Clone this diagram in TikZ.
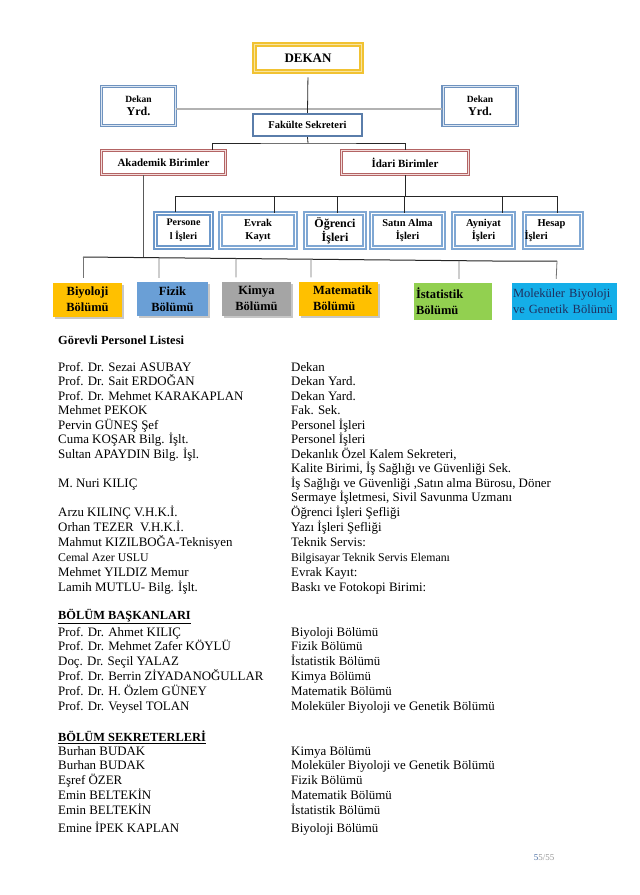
\documentclass[tikz,border=0pt]{standalone}
\usepackage{fontspec}
\setmainfont{Liberation Serif}
\usetikzlibrary{shadows,calc}
\definecolor{cYel}{HTML}{F1C232}
\definecolor{cYelIn}{HTML}{F8E4A0}
\definecolor{cYrd}{HTML}{6F93BF}
\definecolor{cYrdIn}{HTML}{DCE6F2}
\definecolor{cFak}{HTML}{5A7DAA}
\definecolor{cRed}{HTML}{B36464}
\definecolor{cRedIn}{HTML}{F2DCDB}
\definecolor{cIb}{HTML}{7FA7D3}
\definecolor{cIbD}{HTML}{6C98CA}
\definecolor{cBio}{HTML}{FFC000}
\definecolor{cFiz}{HTML}{6A9FD6}
\definecolor{cKim}{HTML}{A5A5A5}
\definecolor{cIst}{HTML}{92D050}
\definecolor{cMol}{HTML}{14AEE8}
\definecolor{cMolT}{HTML}{1F2F5F}
\definecolor{cPg}{HTML}{4A6FA5}
\begin{document}
\begin{tikzpicture}[x=1pt,y=-1pt,
  lst/.style={anchor=base west, inner sep=0pt, font=\fontsize{12.9}{14}\selectfont},
  lsts/.style={anchor=base west, inner sep=0pt, font=\fontsize{11.8}{14}\selectfont},
  hdr/.style={anchor=base west, inner sep=0pt, font=\fontsize{12.4}{14}\selectfont\bfseries},
  conn/.style={draw=black!85, line width=0.8pt},
  grayln/.style={draw=black!30, line width=1.6pt},
  dropln/.style={draw=black!55, line width=0.8pt, shorten >=4pt},
  dekbox/.style={draw=cYel, line width=1.6pt, double=cYelIn, double distance=1pt, fill=white,
    minimum width=107pt, minimum height=27pt, inner sep=0pt, font=\fontsize{13}{15}\selectfont\bfseries},
  yrdbox/.style={draw=cYrd, line width=1.3pt, double=cYrdIn, double distance=0.8pt, fill=white,
    minimum width=74pt, minimum height=39pt, inner sep=0pt, align=center},
  fakbox/.style={draw=cFak, line width=2.4pt, fill=white,
    minimum width=109pt, minimum height=22pt, inner sep=0pt, font=\fontsize{10.5}{12}\selectfont\bfseries},
  redbox/.style={draw=cRed, line width=1.3pt, double=cRedIn, double distance=0.8pt, fill=white,
    minimum width=124pt, minimum height=24pt, inner sep=0pt, font=\fontsize{11}{13}\selectfont\bfseries},
  ibox/.style={draw=cIb, line width=1.5pt, double=white, double distance=1.3pt, fill=white,
    minimum height=34pt, inner sep=0pt, align=center, font=\fontsize{10.5}{13.5}\selectfont\bfseries},
  dept/.style={minimum height=34pt, inner xsep=2pt, inner ysep=0pt, align=center,
    font=\fontsize{12.5}{16}\selectfont\bfseries},
  shad/.style={drop shadow={shadow xshift=2pt, shadow yshift=-2pt, fill=black!22, opacity=1}}
]
\useasboundingbox (0,0) rectangle (640,895);
\fill[white] (0,0) rectangle (640,895);

% ---------- chart nodes ----------
\node[dekbox] (dekan) at (308,58) {DEKAN};
\node[yrdbox] (yrdL) at (138.5,106) {{\fontsize{9.5}{11}\selectfont\bfseries Dekan}\\[1pt]{\fontsize{12}{13}\selectfont\bfseries Yrd.}};
\node[yrdbox] (yrdR) at (480,106) {{\fontsize{9.5}{11}\selectfont\bfseries Dekan}\\[1pt]{\fontsize{12}{13}\selectfont\bfseries Yrd.}};
\draw[grayln] ([yshift=-3pt]yrdL.east) -- ([yshift=-3pt]yrdR.west);
\node[fakbox] (fak) at (307.5,125) {Fakülte Sekreteri};
\node[redbox] (akad) at (163.5,162.5) {Akademik Birimler};
\node[redbox, minimum width=127pt] (idari) at (405,162.5) {İdari Birimler};

\node[ibox, draw=cIbD, line width=2.2pt, minimum width=56pt] (pers) at (183.5,230.5) {{\fontsize{10}{12}\selectfont Persone}\\{\fontsize{10}{12}\selectfont l İşleri}};
\node[ibox, minimum width=75pt] (evrak) at (258,230.5) {Evrak\\Kayıt};
\node[ibox, minimum width=59pt, font=\fontsize{12}{14}\selectfont\bfseries] (ogr) at (335,230.5) {Öğrenci\\İşleri};
\node[ibox, minimum width=72pt] (satin) at (407.5,230.5) {Satın Alma\\İşleri};
\node[ibox, minimum width=60pt] (ayn) at (483.5,230.5) {Ayniyat\\İşleri};
\node[ibox, minimum width=57pt, align=left, text width=55pt] (hesap) at (553,230.5) {\hspace*{12pt}Hesap\\[-1pt]\hspace*{-1pt}İşleri};

\node[dept, fill=cBio, text width=65pt, shad] (bio) at (87.5,299.5) {Biyoloji\\Bölümü};
\node[dept, fill=cFiz, text width=67pt, shad] (fiz) at (172.5,299) {Fizik\\Bölümü};
\node[dept, fill=cKim, text width=65pt, shad] (kim) at (256.5,298.5) {Kimya\\Bölümü};
\node[dept, fill=cBio, text width=75pt, align=left, shad] (mat) at (338.5,298.5) {\hspace*{12pt}Matematik\\\hspace*{12pt}Bölümü};
\node[dept, fill=cIst, text width=74pt, align=left, minimum height=37pt] (ist) at (453,301.5) {İstatistik\\Bölümü};
\node[dept, fill=cMol, text width=103pt, inner xsep=1pt, align=left, minimum height=37pt,
  font=\fontsize{12.5}{16}\selectfont, text=cMolT] (mol) at (564.5,301.5) {Moleküler Biyoloji\\ve Genetik Bölümü};

% ---------- connectors ----------
\coordinate (fakJ) at (308,143);
\coordinate (idJ) at (405,196);
\coordinate (akJ) at (143,257);
\coordinate (bL) at (83,257);
\coordinate (bM) at (493,261);
\coordinate (bR) at (557,261);

\draw[conn, shorten <=5pt] (dekan.south) -- (fak.north);
\draw[conn] (fak.south) -- (fakJ);
\draw[conn] ([xshift=48.5pt]akad.north) |- (fakJ) -| (idari.north);
\draw[conn] (idari.south) -- (idJ);
\foreach \nn/\ss in {pers/-8.5, evrak/16, ogr/2, satin/-3.5, ayn/18.5, hesap/4}
  \draw[conn] (idJ) -| ([xshift=\ss pt]\nn.north);
\draw[conn, draw=black!65] ([xshift=-20.5pt]akad.south) -- (akJ);
\draw[conn, line width=1pt] (bL) -- (bM) -- (bR);
\draw[dropln] (bL) -- ([xshift=-4.5pt]bio.north);
\draw[dropln] ($(bL)!0.1854!(bM)$) -- ([xshift=-13.5pt]fiz.north);
\draw[dropln] ($(bL)!0.3732!(bM)$) -- ([xshift=-20.5pt]kim.north);
\draw[dropln] ($(bL)!0.5561!(bM)$) -- ([xshift=-27.5pt]mat.north);
\draw[dropln] ($(bL)!0.9171!(bM)$) -- ([xshift=6pt]ist.north);
\draw[dropln] (bR) -- ([xshift=-8.5pt]mol.north);

% ---------- personnel list ----------
\node[hdr] (h1) at (58,344.5) {Görevli Personel Listesi};

\node[lst] (a1) at (58,371.5) {Prof. Dr. Sezai ASUBAY};
\node[lst] (b1) at (291,371.5) {Dekan};
\node[lst] (a2) at (58,385.5) {Prof. Dr. Sait ERDOĞAN};
\node[lst] (b2) at (291,385.5) {Dekan Yard.};
\node[lst] (a3) at (58,400.5) {Prof. Dr. Mehmet KARAKAPLAN};
\node[lst] (b3) at (291,400.5) {Dekan Yard.};
\node[lst] (a4) at (58,414.5) {Mehmet PEKOK};
\node[lst] (b4) at (291,414.5) {Fak. Sek.};
\node[lst] (a5) at (58,429.5) {Pervin GÜNEŞ Şef};
\node[lst] (b5) at (291,429.5) {Personel İşleri};
\node[lst] (a6) at (58,443.5) {Cuma KOŞAR Bilg. İşlt.};
\node[lst] (b6) at (291,443.5) {Personel İşleri};
\node[lst] (a7) at (58,458.5) {Sultan APAYDIN Bilg. İşl.};
\node[lst] (b7) at (291,458.5) {Dekanlık Özel Kalem Sekreteri,};
\node[lst] (b8) at (291,472.5) {Kalite Birimi, İş Sağlığı ve Güvenliği Sek.};
\node[lst] (a9) at (58,487.5) {M. Nuri KILIÇ};
\node[lst] (b9) at (291,487.5) {İş Sağlığı ve Güvenliği ,Satın alma Bürosu, Döner};
\node[lst] (b10) at (291,501.5) {Sermaye İşletmesi, Sivil Savunma Uzmanı};
\node[lst] (a11) at (58,516.5) {Arzu KILINÇ V.H.K.İ.};
\node[lst] (b11) at (291,516.5) {Öğrenci İşleri Şefliği};
\node[lst] (a12) at (58,531.5) {Orhan TEZER\ \ V.H.K.İ.};
\node[lst] (b12) at (291,531.5) {Yazı İşleri Şefliği};
\node[lst] (a13) at (58,546.5) {Mahmut KIZILBOĞA-Teknisyen};
\node[lst] (b13) at (291,546.5) {Teknik Servis:};
\node[lsts] (a14) at (58,561.5) {Cemal Azer USLU};
\node[lsts] (b14) at (291,561.5) {Bilgisayar Teknik Servis Elemanı};
\node[lst] (a15) at (58,576.5) {Mehmet YILDIZ Memur};
\node[lst] (b15) at (291,576.5) {Evrak Kayıt:};
\node[lst] (a16) at (58,591.5) {Lamih MUTLU- Bilg. İşlt.};
\node[lst] (b16) at (291,591.5) {Baskı ve Fotokopi Birimi:};

\node[hdr] (h2) at (58,619.5) {\underline{BÖLÜM BAŞKANLARI}};
\node[lst] (c1) at (58,636.5) {Prof. Dr. Ahmet KILIÇ};
\node[lst] (d1) at (291,636.5) {Biyoloji Bölümü};
\node[lst] (c2) at (58,650.5) {Prof. Dr. Mehmet Zafer KÖYLÜ};
\node[lst] (d2) at (291,650.5) {Fizik Bölümü};
\node[lst] (c3) at (58,665.5) {Doç. Dr. Seçil YALAZ};
\node[lst] (d3) at (291,665.5) {İstatistik Bölümü};
\node[lst] (c4) at (58,680.5) {Prof. Dr. Berrin ZİYADANOĞULLAR};
\node[lst] (d4) at (291,680.5) {Kimya Bölümü};
\node[lst] (c5) at (58,695.5) {Prof. Dr. H. Özlem GÜNEY};
\node[lst] (d5) at (291,695.5) {Matematik Bölümü};
\node[lst] (c6) at (58,710.5) {Prof. Dr. Veysel TOLAN};
\node[lst] (d6) at (291,710.5) {Moleküler Biyoloji ve Genetik Bölümü};

\node[hdr] (h3) at (58,741.5) {\underline{BÖLÜM SEKRETERLERİ}};
\node[lst] (e1) at (58,755.5) {Burhan BUDAK};
\node[lst] (f1) at (291,755.5) {Kimya Bölümü};
\node[lst] (e2) at (58,769.5) {Burhan BUDAK};
\node[lst] (f2) at (291,769.5) {Moleküler Biyoloji ve Genetik Bölümü};
\node[lst] (e3) at (58,784.5) {Eşref ÖZER};
\node[lst] (f3) at (291,784.5) {Fizik Bölümü};
\node[lst] (e4) at (58,799.5) {Emin BELTEKİN};
\node[lst] (f4) at (291,799.5) {Matematik Bölümü};
\node[lst] (e5) at (58,814.5) {Emin BELTEKİN};
\node[lst] (f5) at (291,814.5) {İstatistik Bölümü};
\node[lst] (e6) at (58,832.5) {Emine İPEK KAPLAN};
\node[lst] (f6) at (291,832.5) {Biyoloji Bölümü};

\node[inner sep=0pt, font=\fontsize{9}{10}\selectfont] (pg) at (544,858) {{\color{cPg}5}{\color{black!40}5/55}};
\end{tikzpicture}
\end{document}
